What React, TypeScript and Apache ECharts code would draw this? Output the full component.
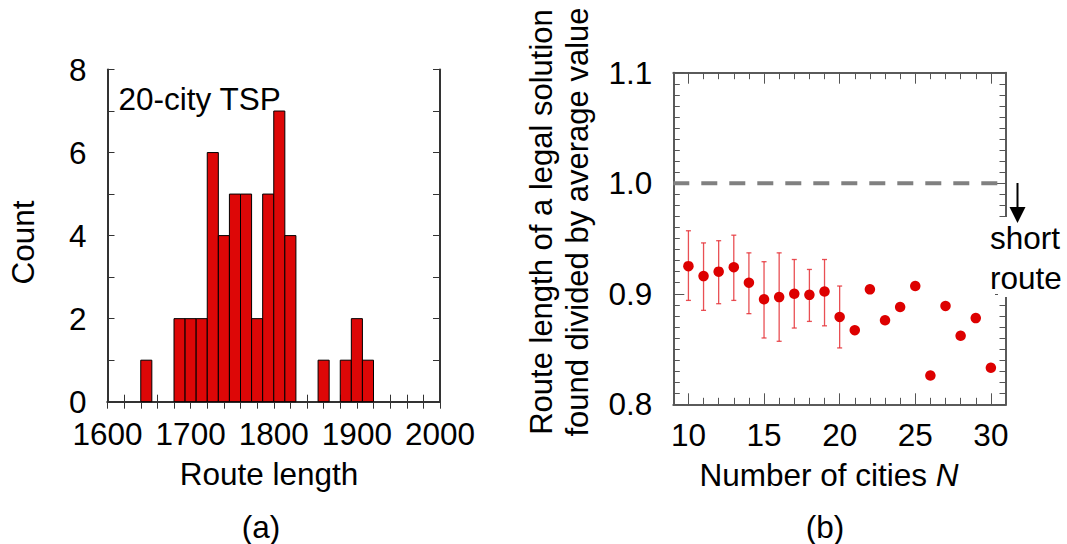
import React, { useEffect, useRef } from "react";
import * as echarts from "echarts";

// (a) histogram of route lengths: 30 bins of width 40/3 from 1600 to 2000
const histStart = 1600;
const histBinWidth = 40 / 3;
const histCounts = [
  0, 0, 0, 1, 0, 0, 2, 2, 2, 6, 4, 5, 5, 2, 5, 7, 4, 0, 0, 1, 0, 1, 2, 1, 0, 0, 0, 0, 0, 0,
];
const histXTicks = [1600, 1700, 1800, 1900, 2000];
const histYTicks = [0, 2, 4, 6, 8];

// (b) normalized route length vs number of cities
const cities = [10, 11, 12, 13, 14, 15, 16, 17, 18, 19, 20, 21, 22, 23, 24, 25, 26, 27, 28, 29, 30];
const ratio = [
  0.925, 0.916, 0.92, 0.924, 0.91, 0.895, 0.897, 0.9, 0.899, 0.902, 0.879, 0.867, 0.904, 0.876,
  0.888, 0.907, 0.826, 0.889, 0.862, 0.878, 0.833,
];
// error bars exist for N = 10..20
const errCities = [10, 11, 12, 13, 14, 15, 16, 17, 18, 19, 20];
const errLow = [0.894, 0.885, 0.891, 0.894, 0.882, 0.86, 0.857, 0.869, 0.875, 0.871, 0.851];
const errHigh = [0.957, 0.946, 0.948, 0.953, 0.937, 0.929, 0.937, 0.931, 0.922, 0.931, 0.907];
const nMajorTicks = [10, 15, 20, 25, 30];
const nMinorTicks = [10, 11, 12, 13, 14, 15, 16, 17, 18, 19, 20, 21, 22, 23, 24, 25, 26, 27, 28, 29, 30];
const averageLevel = 1.0;
const averageLineEnd = 32.1;

const FONT = '"Liberation Sans", Arial, sans-serif';
const FS = 31.5;
const RED = "#dd0707";

const gridA = { left: 107.5, top: 69.5, width: 332.5, height: 332.2 };
const gridB = { left: 673.3, top: 72.7, width: 332.7, height: 331.6 };

export default function App() {
  const ref = useRef<HTMLDivElement>(null);

  useEffect(() => {
    if (!ref.current) return;
    const chart = echarts.init(ref.current, undefined, { renderer: "svg" });

    const histData = histCounts
      .map((c, k) => [histStart + k * histBinWidth, histStart + (k + 1) * histBinWidth, c])
      .filter((d) => d[2] > 0);
    const errData = errCities.map((n, i) => [n, errLow[i], errHigh[i]]);
    const scatterData = cities.map((n, i) => [n, ratio[i]]);

    const lblA = { color: "#000", fontSize: FS, fontFamily: FONT, lineHeight: 26 };
    const lineA = { show: true, lineStyle: { color: "#333", width: 2 } };
    const lineB = { show: true, lineStyle: { color: "#5a5a5a", width: 2 } };
    const tickA = { show: true, inside: true, length: 7, lineStyle: { color: "#333", width: 1 } };
    const minorA = { show: true, length: 7, lineStyle: { color: "#333", width: 1 } };
    const tickB = { inside: true, lineStyle: { color: "#555", width: 1 } };

    const histX = {
      type: "value",
      gridIndex: 0,
      min: 1600,
      max: 2000,
      interval: 100,
      axisLine: lineA,
      axisTick: tickA,
      minorTick: { ...minorA, splitNumber: 5 },
      splitLine: { show: false },
      minorSplitLine: { show: false },
    };
    const histY = {
      type: "value",
      gridIndex: 0,
      min: 0,
      max: 8,
      interval: 2,
      axisLine: lineA,
      axisTick: tickA,
      minorTick: { ...minorA, splitNumber: 2 },
      splitLine: { show: false },
    };

    chart.setOption({
      animation: false,
      grid: [
        { ...gridA, containLabel: false },
        { ...gridB, containLabel: false },
        { ...gridB, containLabel: false },
      ],
      xAxis: [
        {
          ...histX,
          position: "bottom",
          axisLabel: { ...lblA, margin: 19.5, customValues: histXTicks, formatter: (v: number) => String(v) },
        },
        { ...histX, position: "top", axisLabel: { show: false } },
        {
          type: "value",
          gridIndex: 1,
          position: "bottom",
          min: 9,
          max: 31,
          axisLine: lineB,
          axisTick: { ...tickB, show: true, length: 6.5, customValues: nMinorTicks },
          axisLabel: { ...lblA, margin: 17.5, customValues: nMajorTicks, formatter: (v: number) => String(v) },
          splitLine: { show: false },
        },
        {
          type: "value",
          gridIndex: 1,
          position: "top",
          min: 9,
          max: 31,
          axisLine: lineB,
          axisTick: { ...tickB, show: true, length: 6.5, customValues: nMinorTicks },
          axisLabel: { show: false },
          splitLine: { show: false },
        },
        {
          type: "value",
          gridIndex: 2,
          position: "bottom",
          min: 9,
          max: 31,
          axisLine: { show: false },
          axisTick: { ...tickB, show: true, length: 11, customValues: nMajorTicks },
          axisLabel: { show: false },
          splitLine: { show: false },
        },
        {
          type: "value",
          gridIndex: 2,
          position: "top",
          min: 9,
          max: 31,
          axisLine: { show: false },
          axisTick: { ...tickB, show: true, length: 11, customValues: nMajorTicks },
          axisLabel: { show: false },
          splitLine: { show: false },
        },
      ],
      yAxis: [
        {
          ...histY,
          position: "left",
          axisLabel: { ...lblA, margin: 21, customValues: histYTicks },
        },
        { ...histY, position: "right", axisLabel: { show: false } },
        {
          type: "value",
          gridIndex: 1,
          position: "left",
          min: 0.8,
          max: 1.1,
          interval: 0.1,
          axisLine: lineB,
          axisTick: { ...tickB, show: true, length: 11 },
          minorTick: { show: true, splitNumber: 10, length: 6.5, lineStyle: { color: "#555", width: 1 } },
          axisLabel: { ...lblA, margin: 21, formatter: (v: number) => v.toFixed(1) },
          splitLine: { show: false },
        },
        {
          type: "value",
          gridIndex: 1,
          position: "right",
          min: 0.8,
          max: 1.1,
          interval: 0.1,
          axisLine: lineB,
          axisTick: { ...tickB, show: true, length: 11 },
          minorTick: { show: true, splitNumber: 10, length: 6.5, lineStyle: { color: "#555", width: 1 } },
          axisLabel: { show: false },
          splitLine: { show: false },
        },
        { type: "value", gridIndex: 2, min: 0.8, max: 1.1, show: false },
      ],
      series: [
        {
          type: "custom",
          name: "histogram",
          xAxisIndex: 0,
          yAxisIndex: 0,
          data: histData,
          encode: { x: [0, 1], y: 2 },
          renderItem: (params: any, api: any) => {
            const p0 = api.coord([api.value(0), api.value(2)]);
            const p1 = api.coord([api.value(1), 0]);
            return {
              type: "rect",
              shape: { x: p0[0], y: p0[1], width: p1[0] - p0[0], height: p1[1] - p0[1] },
              style: { fill: RED, stroke: "#000", lineWidth: 1 },
            };
          },
        },
        {
          type: "line",
          name: "average",
          xAxisIndex: 2,
          yAxisIndex: 2,
          clip: false,
          symbol: "none",
          data: [
            [9, averageLevel],
            [averageLineEnd, averageLevel],
          ],
          lineStyle: { color: "#808080", width: 4, type: [16, 12] },
          z: 1,
        },
        {
          type: "custom",
          name: "error",
          xAxisIndex: 2,
          yAxisIndex: 2,
          data: errData,
          encode: { x: 0, y: [1, 2] },
          renderItem: (params: any, api: any) => {
            const lo = api.coord([api.value(0), api.value(1)]);
            const hi = api.coord([api.value(0), api.value(2)]);
            const st = { stroke: "#e53036", lineWidth: 1.3, opacity: 0.85 };
            return {
              type: "group",
              children: [
                { type: "line", shape: { x1: lo[0], y1: lo[1], x2: hi[0], y2: hi[1] }, style: st },
                { type: "line", shape: { x1: lo[0] - 2.5, y1: lo[1], x2: lo[0] + 2.5, y2: lo[1] }, style: st },
                { type: "line", shape: { x1: hi[0] - 2.5, y1: hi[1], x2: hi[0] + 2.5, y2: hi[1] }, style: st },
              ],
            };
          },
          z: 2,
        },
        {
          type: "scatter",
          name: "ratio",
          xAxisIndex: 2,
          yAxisIndex: 2,
          data: scatterData,
          symbol: "circle",
          symbolSize: 10.5,
          itemStyle: { color: "#dd0000", opacity: 1 },
          z: 3,
        },
      ],
      graphic: [
        {
          type: "text",
          x: 118.5,
          y: 98.5,
          z: 100,
          style: { text: "20-city TSP", fontSize: FS, fontFamily: FONT, fill: "#000", align: "left", verticalAlign: "middle" },
        },
        {
          type: "text",
          x: 22.5,
          y: 242.5,
          rotation: Math.PI / 2,
          z: 100,
          style: { text: "Count", fontSize: FS, fontFamily: FONT, fill: "#000", align: "center", verticalAlign: "middle" },
        },
        {
          type: "text",
          x: 269,
          y: 474,
          z: 100,
          style: { text: "Route length", fontSize: FS, fontFamily: FONT, fill: "#000", align: "center", verticalAlign: "middle" },
        },
        {
          type: "text",
          x: 261,
          y: 527,
          z: 100,
          style: { text: "(a)", fontSize: FS, fontFamily: FONT, fill: "#000", align: "center", verticalAlign: "middle" },
        },
        {
          type: "text",
          x: 541,
          y: 222,
          rotation: Math.PI / 2,
          z: 100,
          style: {
            text: "Route length of a legal solution",
            fontSize: 31,
            fontFamily: FONT,
            fill: "#000",
            align: "center",
            verticalAlign: "middle",
          },
        },
        {
          type: "text",
          x: 577,
          y: 222,
          rotation: Math.PI / 2,
          z: 100,
          style: {
            text: "found divided by average value",
            fontSize: 31,
            fontFamily: FONT,
            fill: "#000",
            align: "center",
            verticalAlign: "middle",
          },
        },
        {
          type: "text",
          x: 829,
          y: 475,
          z: 100,
          style: {
            text: "Number of cities {i|N}",
            fontSize: FS,
            fontFamily: FONT,
            fill: "#000",
            align: "center",
            verticalAlign: "middle",
            rich: { i: { fontSize: FS, fontFamily: FONT, fontStyle: "italic", fill: "#000" } },
          },
        },
        {
          type: "text",
          x: 825,
          y: 527,
          z: 100,
          style: { text: "(b)", fontSize: FS, fontFamily: FONT, fill: "#000", align: "center", verticalAlign: "middle" },
        },
        {
          type: "rect",
          z: 100,
          shape: { x: 998, y: 217, width: 16, height: 80 },
          style: { fill: "#fff" },
        },
        {
          type: "text",
          x: 990,
          y: 238,
          z: 101,
          style: { text: "short", fontSize: FS, fontFamily: FONT, fill: "#000", align: "left", verticalAlign: "middle" },
        },
        {
          type: "text",
          x: 990,
          y: 278,
          z: 101,
          style: { text: "route", fontSize: FS, fontFamily: FONT, fill: "#000", align: "left", verticalAlign: "middle" },
        },
        {
          type: "line",
          z: 101,
          shape: { x1: 1017.5, y1: 183, x2: 1017.5, y2: 209 },
          style: { stroke: "#000", lineWidth: 2 },
        },
        {
          type: "polygon",
          z: 101,
          shape: { points: [[1009.5, 207], [1025.5, 207], [1017.5, 223]] },
          style: { fill: "#000" },
        },
      ],
    });

    return () => chart.dispose();
  }, []);

  return <div ref={ref} style={{ position: "absolute", left: 0, top: 0, width: 1067, height: 544 }} />;
}
